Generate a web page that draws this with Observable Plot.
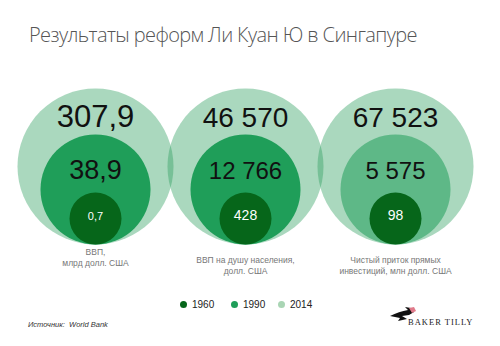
<!DOCTYPE html>
<html>
<head>
<meta charset="utf-8">
<script src="https://cdn.jsdelivr.net/npm/d3@7"></script>
<script src="https://cdn.jsdelivr.net/npm/@observablehq/plot@0.6"></script>
<style>
  html, body { margin: 0; padding: 0; background: #fff; }
  #wrap { position: relative; width: 500px; height: 346px; overflow: hidden; }
  #title { position: absolute; left: 29px; top: 21px; font-family: "Open Sans", sans-serif; font-weight: 300; font-size: 20px; letter-spacing: -0.6px; color: #555; white-space: nowrap; }
  #chart { position: absolute; left: 0; top: 62px; }
  #legend { position: absolute; top: 299px; left: 0; width: 500px; height: 16px; font-family: "Liberation Sans", Arial, sans-serif; font-size: 10px; color: #222; }
  .item { position: absolute; top: 0; display: flex; align-items: center; }
  .sw { display: inline-block; width: 7px; height: 7px; border-radius: 50%; margin-right: 5px; }
  #source { position: absolute; left: 28px; top: 320px; font-family: "Liberation Sans", Arial, sans-serif; font-style: italic; font-size: 7.5px; color: #333; white-space: pre; }
  #logo { position: absolute; left: 388px; top: 303px; }
</style>
</head>
<body>
<div id="wrap">
  <div id="title">Результаты реформ Ли Куан Ю в Сингапуре</div>
  <div id="chart"></div>
  <div id="legend"></div>
  <div id="source">Источник:  World Bank</div>
  <svg id="logo" width="90" height="28" viewBox="0 0 90 28">
    <path d="M2,13 C8,10 14,8 20,7 L17,4 L23,5 L26,9 L21,12 L14,13 L19,16 L10,18 L12,15 Z" fill="#111"/>
    <path d="M21,5 L26,4 L28,8 L24,10 Z" fill="#e07a8a"/>
    <text x="20" y="22" font-family="Liberation Serif, serif" font-size="8.5" letter-spacing="1" fill="#222">BAKER TILLY</text>
  </svg>
</div>
<script>
const years = [1960, 1990, 2014];
const yearColors = ["#06661a", "#1f9e59", "#a9d5b4"];
const groupLabels = [
  "ВВП,\nмлрд долл. США",
  "ВВП на душу населения,\nдолл. США",
  "Чистый приток прямых\nинвестиций, млн долл. США"
];
const gdp = [0.7, 38.9, 307.9];
const gdpPerCapita = [428, 12766, 46570];
const fdiInflow = [98, 5575, 67523];

const series = [gdp, gdpPerCapita, fdiInflow];
const data = groupLabels.flatMap((g, i) =>
  years.map((y, j) => ({group: g, year: y, value: series[i][j]}))
);

const loc = d3.formatLocale({decimal: ",", thousands: "\u00a0", grouping: [3], currency: ["", ""]});
const fmtInt = loc.format(",d");
const fmtDec = loc.format(",.1f");
const fmt = v => Number.isInteger(v) ? fmtInt(v) : fmtDec(v);

const byYear = y => data.filter(d => d.year === y);
const num = "Liberation Sans, Arial, sans-serif";
const isFirst = d => d.group === groupLabels[0];

const chart = Plot.plot({
  width: 500,
  height: 218,
  marginTop: 0, marginLeft: 0, marginRight: 0, marginBottom: 36,
  x: {type: "point", domain: groupLabels, range: [95, 395], padding: 0, axis: null},
  marks: [
    Plot.dot(byYear(2014), {x: "group", frameAnchor: "bottom", r: 78, dy: -78, fill: "#2a9d5c", fillOpacity: 0.4}),
    Plot.dot(byYear(1990), {x: "group", frameAnchor: "bottom", r: 55, dy: -55, fill: yearColors[1],
      fillOpacity: d => d.group === groupLabels[2] ? 0.55 : 1}),
    Plot.dot(byYear(1960), {x: "group", frameAnchor: "bottom", r: 26, dy: -26, fill: yearColors[0]}),
    Plot.text(byYear(2014), {x: "group", frameAnchor: "bottom", dy: -118, text: d => fmt(d.value),
      fontSize: d => isFirst(d) ? 31 : 28, fontFamily: num, fill: "#111"}),
    Plot.text(byYear(1990), {x: "group", frameAnchor: "bottom", dy: -66, text: d => fmt(d.value),
      fontSize: d => isFirst(d) ? 27 : 24, fontFamily: num, fill: "#111"}),
    Plot.text(byYear(1960), {x: "group", frameAnchor: "bottom", dy: -25, text: d => fmt(d.value),
      fontSize: d => isFirst(d) ? 11 : 14, fontFamily: num, fill: "#fff"}),
    Plot.text(groupLabels.slice(0, 1), {x: d => d, frameAnchor: "bottom", dy: 3, lineAnchor: "top",
      text: d => d, fontSize: 8.5, fontFamily: num, fill: "#777", lineHeight: 1.3}),
    Plot.text(groupLabels.slice(1), {x: d => d, frameAnchor: "bottom", dy: 11, lineAnchor: "top",
      text: d => d, fontSize: 8.5, fontFamily: num, fill: "#777", lineHeight: 1.3})
  ]
});
document.getElementById("chart").appendChild(chart);

const legend = document.getElementById("legend");
const legendX = [180, 231, 278];
years.forEach((y, i) => {
  const it = document.createElement("div");
  it.className = "item";
  it.style.left = legendX[i] + "px";
  const sw = document.createElement("span");
  sw.className = "sw";
  sw.style.background = yearColors[i];
  it.appendChild(sw);
  it.appendChild(document.createTextNode(String(y)));
  legend.appendChild(it);
});
</script>
</body>
</html>
